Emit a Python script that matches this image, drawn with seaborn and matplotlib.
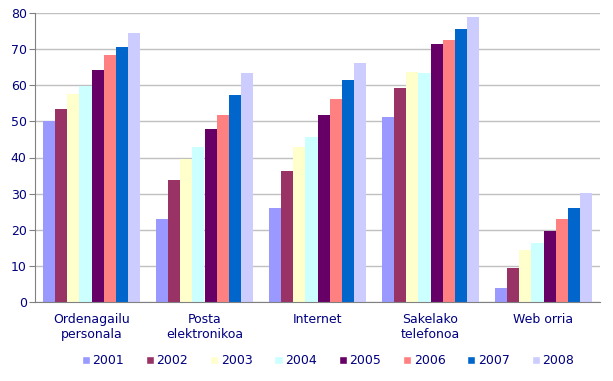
import pandas as pd
import numpy as np
import matplotlib
matplotlib.use("Agg")
import matplotlib.pyplot as plt
import seaborn as sns
from matplotlib.patches import Patch

# data
categories = ["Ordenagailu\npersonala", "Posta\nelektronikoa", "Internet",
              "Sakelako\ntelefonoa", "Web orria"]
years = ["2001", "2002", "2003", "2004", "2005", "2006", "2007", "2008"]
v2001 = [50.2, 23.0, 26.0, 51.2, 3.9]
v2002 = [53.5, 33.8, 36.3, 59.3, 9.4]
v2003 = [57.7, 39.7, 42.8, 63.8, 14.5]
v2004 = [59.9, 42.8, 45.7, 63.4, 16.3]
v2005 = [64.3, 47.9, 51.8, 71.5, 19.7]
v2006 = [68.5, 51.8, 56.2, 72.6, 23.0]
v2007 = [70.7, 57.3, 61.5, 75.6, 26.0]
v2008 = [74.6, 63.4, 66.2, 79.0, 30.2]

colors = ["#9999FF", "#993366", "#FFFFCC", "#CCFFFF",
          "#660066", "#FF8080", "#0066CC", "#CCCCFF"]

series = [v2001, v2002, v2003, v2004, v2005, v2006, v2007, v2008]
rows = []
for yr, vals in zip(years, series):
    for cat, v in zip(categories, vals):
        rows.append({"cat": cat, "year": yr, "value": v})
df = pd.DataFrame(rows)

sns.set_style("white")
plt.rcParams['font.family'] = ['DejaVu Sans']
navy = "#000080"

fig = plt.figure(figsize=(6.13, 3.81), dpi=100)
ax = fig.add_axes([35 / 613, 1 - 302 / 381, 565 / 613, 289 / 381])

sns.barplot(data=df, x="cat", y="value", hue="year", palette=colors,
            width=0.85, saturation=1, linewidth=0, ax=ax, legend=False,
            order=categories, hue_order=years)

ax.set_ylim(0, 80)
ax.set_yticks(range(0, 81, 10))
ax.set_xlim(-0.5, 4.5)
ax.yaxis.grid(True, color="#C0C0C0", linewidth=1)
ax.set_axisbelow(True)
for s in ["top", "right"]:
    ax.spines[s].set_visible(False)
for s in ["left", "bottom"]:
    ax.spines[s].set_color("#808080")
ax.set_xlabel("")
ax.set_ylabel("")

ax.set_xticks(range(5))
ax.set_xticklabels(categories, linespacing=1.15)
ax.set_xticks(np.arange(-0.5, 5, 1), minor=True)
ax.tick_params(axis="x", which="major", length=0, pad=8, labelsize=9, labelcolor=navy)
ax.tick_params(axis="x", which="minor", length=4, color="#808080", direction="out")
ax.tick_params(axis="y", length=4, color="#808080", direction="out", left=True,
               labelsize=9, labelcolor=navy, pad=2)

handles = [Patch(facecolor=c, label=y) for c, y in zip(colors, years)]
fig.legend(handles=handles, loc="center", bbox_to_anchor=(0.535, 1 - 361 / 381),
           ncol=8, frameon=False, fontsize=9, labelcolor=navy,
           handlelength=0.65, handleheight=0.65, handletextpad=0.2, columnspacing=1.75)

fig.savefig("out.png", dpi=100)
